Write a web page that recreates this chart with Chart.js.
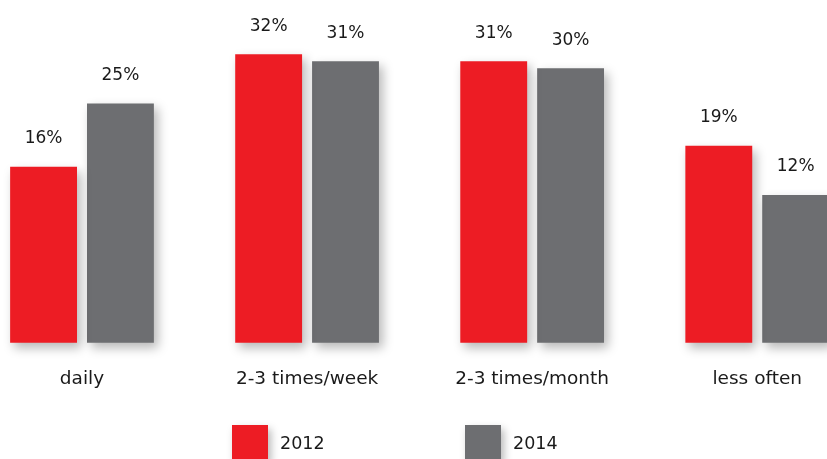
<!DOCTYPE html>
<html>
<head>
<meta charset="utf-8">
<script src="https://cdn.jsdelivr.net/npm/chart.js@4"></script>
<style>
  body { margin: 0; background: #fff; }
  #wrap { width: 827px; height: 459px; }
</style>
</head>
<body>
<div id="wrap"><canvas id="barChart"></canvas></div>
<script>
// frequency categories and the two survey years
const categories = ["daily", "2-3 times/week", "2-3 times/month", "less often"];
const years = ["2012", "2014"];
const values2012 = [16, 32, 31, 19];
const values2014 = [25, 31, 30, 12];

const red = '#ed1c24';
const grey = '#6d6e71';
const ink = '#1a1a1a';
const fontFamily = "'DejaVu Sans', sans-serif";

// soft drop shadow under the bars, like the print version
const barShadow = {
    id: 'barShadow',
    beforeDatasetsDraw(chart) {
        const ctx = chart.ctx;
        ctx.save();
        ctx.shadowColor = 'rgba(0,0,0,0.28)';
        ctx.shadowBlur = 10;
        ctx.shadowOffsetX = 4;
        ctx.shadowOffsetY = 5;
    },
    afterDatasetsDraw(chart) {
        chart.ctx.restore();
    }
};

// percent labels above each bar
const valueLabels = {
    id: 'valueLabels',
    afterDatasetsDraw(chart) {
        const ctx = chart.ctx;
        ctx.save();
        ctx.fillStyle = ink;
        ctx.font = "17px " + fontFamily;
        ctx.textAlign = 'center';
        ctx.textBaseline = 'middle';
        chart.data.datasets.forEach((ds, i) => {
            chart.getDatasetMeta(i).data.forEach((bar, j) => {
                ctx.fillText(ds.data[j] + '%', bar.x, bar.y - 28);
            });
        });
        ctx.restore();
    }
};

// legend at the bottom: square swatch + year
const bottomLegend = {
    id: 'bottomLegend',
    afterDraw(chart) {
        const ctx = chart.ctx;
        const starts = [232, 465];
        ctx.save();
        ctx.font = "17.5px " + fontFamily;
        ctx.textBaseline = 'middle';
        chart.data.datasets.forEach((ds, i) => {
            const x = starts[i];
            ctx.save();
            ctx.shadowColor = 'rgba(0,0,0,0.28)';
            ctx.shadowBlur = 8;
            ctx.shadowOffsetX = 3;
            ctx.shadowOffsetY = 4;
            ctx.fillStyle = ds.backgroundColor;
            ctx.fillRect(x, 425, 36, 36);
            ctx.restore();
            ctx.fillStyle = ink;
            ctx.fillText(ds.label, x + 48, 444);
        });
        ctx.restore();
    }
};

new Chart(document.querySelector('#barChart'), {
    type: 'bar',
    data: {
        labels: categories,
        datasets: [
            { label: years[0], data: values2012, backgroundColor: red, base: -9, clip: false },
            { label: years[1], data: values2014, backgroundColor: grey, base: -9, clip: false }
        ]
    },
    options: {
        responsive: true,
        maintainAspectRatio: false,
        animation: false,
        categoryPercentage: 0.683,
        barPercentage: 0.87,
        layout: { padding: { left: 82, right: 68.5, top: 0, bottom: 44 } },
        plugins: {
            legend: { display: false },
            tooltip: { enabled: false }
        },
        scales: {
            x: {
                offset: false,
                grid: { display: false, drawTicks: false },
                border: { display: false },
                ticks: {
                    color: ink,
                    padding: 25,
                    maxRotation: 0,
                    autoSkip: false,
                    font: { family: fontFamily, size: 18.5 }
                }
            },
            y: {
                display: false,
                min: -9,
                max: 39.7
            }
        }
    },
    plugins: [barShadow, valueLabels, bottomLegend]
});
</script>
</body>
</html>
